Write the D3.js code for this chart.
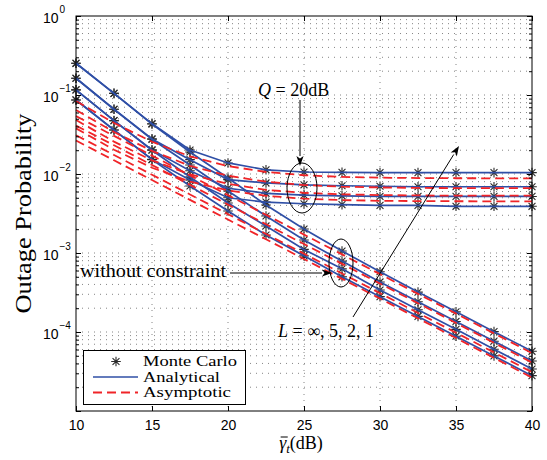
<!DOCTYPE html>
<html>
<head>
<meta charset="utf-8">
<script src="https://cdn.jsdelivr.net/npm/d3@7"></script>
<style>
  body { margin: 0; background: #fff; }
  svg { display: block; }
</style>
</head>
<body>
<svg id="chart" width="547" height="460"></svg>
<script>
// Average SNR grid (dB)
const snrDb = [10, 12.5, 15, 17.5, 20, 22.5, 25, 27.5, 30, 32.5, 35, 37.5, 40];

// Analytical outage, interference limit Q = 20 dB, L = 1, 2, 5, inf
const qAnaL1   = [0.252, 0.105, 0.0432, 0.0201, 0.0138, 0.0113, 0.0106, 0.0105, 0.0104, 0.0104, 0.0104, 0.0104, 0.0104];
const qAnaL2   = [0.163, 0.0660, 0.0278, 0.0152, 0.0085, 0.0077, 0.0073, 0.0071, 0.0070, 0.0069, 0.0069, 0.0069, 0.0069];
const qAnaL5   = [0.116, 0.0474, 0.0202, 0.0110, 0.0066, 0.0057, 0.0054, 0.0053, 0.0052, 0.0052, 0.0052, 0.0052, 0.0052];
const qAnaLinf = [0.0866, 0.0361, 0.0153, 0.0084, 0.0050, 0.0044, 0.0042, 0.0041, 0.0040, 0.0040, 0.0039, 0.0039, 0.0039];

// Analytical outage without the interference constraint
const ncAnaL1   = [0.252, 0.105, 0.0430, 0.0190, 0.0089, 0.00405, 0.00201, 0.00106, 5.8e-4, 3.2e-4, 1.8e-4, 1.01e-4, 5.7e-5];
const ncAnaL2   = [0.163, 0.0659, 0.0275, 0.0130, 0.00609, 0.00294, 0.00146, 7.9e-4, 4.3e-4, 2.42e-4, 1.36e-4, 7.65e-5, 4.3e-5];
const ncAnaL5   = [0.116, 0.0473, 0.0200, 0.00916, 0.0043, 0.0022, 0.00111, 6.3e-4, 3.4e-4, 1.91e-4, 1.08e-4, 6.05e-5, 3.4e-5];
const ncAnaLinf = [0.0864, 0.0360, 0.0152, 0.00705, 0.0034, 0.00169, 9.2e-4, 5.0e-4, 2.8e-4, 1.575e-4, 8.85e-5, 4.98e-5, 2.8e-5];

// Monte Carlo estimates (same grid)
const mcQ  = [qAnaL1, qAnaL2, qAnaL5, qAnaLinf];
const mcNc = [ncAnaL1, ncAnaL2, ncAnaL5, ncAnaLinf];

// Asymptotic approximations
const qAsyL1   = [0.0838, 0.0443, 0.0256, 0.0167, 0.0126, 0.0106, 0.00964, 0.0092, 0.00899, 0.00889, 0.00884, 0.00882, 0.00881];
const qAsyL2   = [0.0645, 0.0340, 0.0196, 0.0127, 0.0095, 0.0080, 0.00725, 0.00691, 0.00675, 0.00667, 0.00663, 0.00662, 0.00661];
const qAsyL5   = [0.0483, 0.0257, 0.0149, 0.0099, 0.0075, 0.0063, 0.00578, 0.00553, 0.00541, 0.00535, 0.00532, 0.00531, 0.00531];
const qAsyLinf = [0.0378, 0.0203, 0.0120, 0.0080, 0.0062, 0.0053, 0.00487, 0.00468, 0.00458, 0.00454, 0.00452, 0.00451, 0.0045];
const ncAsyL1   = [0.054, 0.0304, 0.0171, 0.0096, 0.0054, 0.00304, 0.00171, 9.6e-4, 5.4e-4, 3.04e-4, 1.71e-4, 9.6e-5, 5.4e-5];
const ncAsyL2   = [0.041, 0.0231, 0.0130, 0.00729, 0.0041, 0.00231, 0.0013, 7.29e-4, 4.1e-4, 2.31e-4, 1.3e-4, 7.29e-5, 4.1e-5];
const ncAsyL5   = [0.031, 0.0174, 0.0098, 0.00551, 0.0031, 0.00174, 9.8e-4, 5.51e-4, 3.1e-4, 1.74e-4, 9.8e-5, 5.51e-5, 3.1e-5];
const ncAsyLinf = [0.0265, 0.0149, 0.00838, 0.00471, 0.00265, 0.00149, 8.38e-4, 4.71e-4, 2.65e-4, 1.49e-4, 8.38e-5, 4.71e-5, 2.65e-5];

// Axis ticks (labelled decades on y)
const xTicks = [10, 15, 20, 25, 30, 35, 40];
const yTickExp = [0, -1, -2, -3, -4, -5];
const yLabelExp = [0, -1, -2, -3, -4];

const legendLabels = ["Monte Carlo", "Analytical", "Asymptotic"];
const legendWidths = [94, 77, 88];

const blue = "#2f4fa6";
const red = "#f02428";
const serif = "'Liberation Serif', 'Times New Roman', serif";
const sans = "'Liberation Sans', Arial, Helvetica, sans-serif";

const svg = d3.select("#chart");
const plot = { left: 76, right: 532, top: 16, bottom: 411 };

const x = d3.scaleLinear().domain([10, 40]).range([plot.left, plot.right]);
const y = d3.scaleLog().domain([1e-5, 1]).range([plot.bottom, plot.top]);

svg.append("rect").attr("width", 547).attr("height", 460).attr("fill", "#fff");

// Dotted grid
const grid = svg.append("g").attr("stroke", "#777").attr("stroke-width", 0.9)
  .attr("stroke-dasharray", "1,5").attr("fill", "none");
xTicks.filter(t => t > 10 && t < 40).forEach(t => {
  grid.append("line").attr("x1", x(t)).attr("x2", x(t)).attr("y1", plot.top).attr("y2", plot.bottom);
});
const minorVals = [];
for (let e = -5; e < 0; e++) {
  for (let m = 1; m <= 9; m++) {
    const v = m * Math.pow(10, e);
    if (v > 1e-5 && v < 1) minorVals.push(v);
  }
}
minorVals.forEach(v => {
  grid.append("line").attr("x1", plot.left).attr("x2", plot.right).attr("y1", y(v)).attr("y2", y(v));
});

// Marker: asterisk made of + and x
const r = 4.8, k = r * 0.72;
const starPath = `M${-r},0L${r},0M0,${-r}L0,${r}M${-k},${-k}L${k},${k}M${-k},${k}L${k},${-k}`;

const marks = svg.append("g").attr("stroke", "#2a2a2a").attr("stroke-width", 1.1).attr("fill", "none");
[...mcQ, ...mcNc].forEach(series => {
  series.forEach((v, i) => {
    marks.append("path").attr("d", starPath)
      .attr("transform", `translate(${x(snrDb[i])},${y(v)})`);
  });
});

const line = d3.line().x((d, i) => x(snrDb[i])).y(d => y(d));

// Analytical curves
[qAnaL1, qAnaL2, qAnaL5, qAnaLinf, ncAnaL1, ncAnaL2, ncAnaL5, ncAnaLinf].forEach(s => {
  svg.append("path").attr("d", line(s)).attr("fill", "none")
    .attr("stroke", blue).attr("stroke-width", 1.7);
});

// Asymptotic curves
[qAsyL1, qAsyL2, qAsyL5, qAsyLinf, ncAsyL1, ncAsyL2, ncAsyL5, ncAsyLinf].forEach(s => {
  svg.append("path").attr("d", line(s)).attr("fill", "none")
    .attr("stroke", red).attr("stroke-width", 1.8).attr("stroke-dasharray", "9,5");
});

// Axes box and ticks
const axes = svg.append("g").attr("stroke", "#000").attr("stroke-width", 1).attr("fill", "none");
axes.append("rect").attr("x", plot.left).attr("y", plot.top)
  .attr("width", plot.right - plot.left).attr("height", plot.bottom - plot.top);

svg.append("g").attr("transform", `translate(0,${plot.bottom})`)
  .call(d3.axisBottom(x).tickValues(xTicks).tickSize(-5).tickPadding(9).tickFormat(d3.format("d")))
  .call(g => g.select(".domain").remove())
  .call(g => g.selectAll("text").attr("font-family", sans).attr("font-size", 14).attr("fill", "#000"));
svg.append("g").attr("transform", `translate(0,${plot.top})`)
  .call(d3.axisTop(x).tickValues(xTicks).tickSize(-5).tickFormat(""))
  .call(g => g.select(".domain").remove());

const majorVals = yTickExp.map(e => Math.pow(10, e));
const minorOnly = minorVals.filter(v => !majorVals.includes(v));
svg.append("g").attr("transform", `translate(${plot.left},0)`)
  .call(d3.axisLeft(y).tickValues(majorVals).tickSize(-5).tickFormat(""))
  .call(g => g.select(".domain").remove());
svg.append("g").attr("transform", `translate(${plot.right},0)`)
  .call(d3.axisRight(y).tickValues(majorVals).tickSize(-5).tickFormat(""))
  .call(g => g.select(".domain").remove());
svg.append("g").attr("transform", `translate(${plot.left},0)`)
  .call(d3.axisLeft(y).tickValues(minorOnly).tickSize(-3).tickFormat(""))
  .call(g => g.select(".domain").remove());
svg.append("g").attr("transform", `translate(${plot.right},0)`)
  .call(d3.axisRight(y).tickValues(minorOnly).tickSize(-3).tickFormat(""))
  .call(g => g.select(".domain").remove());

// Y tick labels 10^n
yLabelExp.forEach(e => {
  const yy = y(Math.pow(10, e));
  svg.append("text").attr("font-family", sans).attr("fill", "#000")
    .attr("x", 58.5).attr("y", yy + 7).attr("text-anchor", "end")
    .attr("font-size", 14).text("10");
  svg.append("text").attr("font-family", sans).attr("font-size", 10).attr("fill", "#000")
    .attr("x", 59.5).attr("y", yy - 3).text(e === 0 ? "0" : "\u2212" + (-e));
});

// Axis titles
svg.append("text").attr("transform", `translate(31,${(plot.top + plot.bottom) / 2}) rotate(-90)`)
  .attr("text-anchor", "middle").attr("font-family", serif).attr("font-size", 23)
  .attr("textLength", 200).attr("lengthAdjust", "spacingAndGlyphs")
  .attr("fill", "#000").text("Outage Probability");

const xl = svg.append("text").attr("y", 449).attr("font-family", serif).attr("font-size", 18).attr("fill", "#000");
xl.append("tspan").attr("font-style", "italic").text("\u03b3");
xl.append("tspan").attr("font-style", "italic").attr("font-size", 13).attr("dy", 4).text("t");
xl.append("tspan").attr("dy", -4).text("(dB)");
const xlW = xl.node().getComputedTextLength();
const xl0 = 301 - xlW / 2;
xl.attr("x", xl0);
const gW = xl.node().getSubStringLength(0, 1);
svg.append("line").attr("x1", xl0 + 1.5).attr("x2", xl0 + gW + 1.5)
  .attr("y1", 437).attr("y2", 437).attr("stroke", "#000").attr("stroke-width", 1);

// Annotations
const ann = svg.append("g").attr("stroke", "#000").attr("fill", "none").attr("stroke-width", 1);
ann.append("ellipse").attr("cx", x(25) - 2).attr("cy", 188).attr("rx", 15).attr("ry", 25);
ann.append("ellipse").attr("cx", x(27.5) - 1).attr("cy", 263).attr("rx", 12).attr("ry", 24);

function arrow(x1, y1, x2, y2) {
  const a = Math.atan2(y2 - y1, x2 - x1);
  const L = 10, w = 3.6;
  const bx = x2 - L * Math.cos(a), by = y2 - L * Math.sin(a);
  ann.append("line").attr("x1", x1).attr("y1", y1).attr("x2", bx).attr("y2", by);
  const p1 = [bx + w * Math.sin(a), by - w * Math.cos(a)];
  const p2 = [bx - w * Math.sin(a), by + w * Math.cos(a)];
  ann.append("path").attr("d", `M${x2},${y2}L${p1}L${bx + 2.5 * Math.cos(a)},${by + 2.5 * Math.sin(a)}L${p2}Z`)
    .attr("fill", "#000").attr("stroke", "none");
}
arrow(300, 100, 300, 166);
arrow(230, 273, 332, 273);
arrow(353, 317, 459, 146);

const q = svg.append("text").attr("x", 258).attr("y", 96).attr("font-family", serif)
  .attr("font-size", 18).attr("fill", "#000");
q.append("tspan").attr("font-style", "italic").text("Q");
q.append("tspan").text(" = 20dB");

svg.append("text").attr("x", 80).attr("y", 277).attr("font-family", serif)
  .attr("font-size", 18).attr("textLength", 146).attr("lengthAdjust", "spacingAndGlyphs")
  .attr("fill", "#000").text("without constraint");

const lt = svg.append("text").attr("x", 278).attr("y", 337).attr("font-family", serif)
  .attr("font-size", 18).attr("fill", "#000");
lt.append("tspan").attr("font-style", "italic").text("L");
lt.append("tspan").text(" = \u221e, 5, 2, 1");

// Legend
const lg = svg.append("g");
lg.append("rect").attr("x", 83.5).attr("y", 350.5).attr("width", 162).attr("height", 54)
  .attr("fill", "#fff").attr("stroke", "#000").attr("stroke-width", 1);
lg.append("path").attr("d", starPath).attr("transform", "translate(116,361.5)")
  .attr("stroke", "#2a2a2a").attr("stroke-width", 1.1).attr("fill", "none");
lg.append("line").attr("x1", 93).attr("x2", 138).attr("y1", 377).attr("y2", 377)
  .attr("stroke", blue).attr("stroke-width", 1.7);
lg.append("line").attr("x1", 93).attr("x2", 138).attr("y1", 392.5).attr("y2", 392.5)
  .attr("stroke", red).attr("stroke-width", 1.8).attr("stroke-dasharray", "9,5");
legendLabels.forEach((t, i) => {
  lg.append("text").attr("x", 143).attr("y", 366 + i * 15.5).attr("font-family", serif)
    .attr("font-size", 14).attr("textLength", legendWidths[i]).attr("lengthAdjust", "spacingAndGlyphs")
    .attr("fill", "#000").text(t);
});
</script>
</body>
</html>
